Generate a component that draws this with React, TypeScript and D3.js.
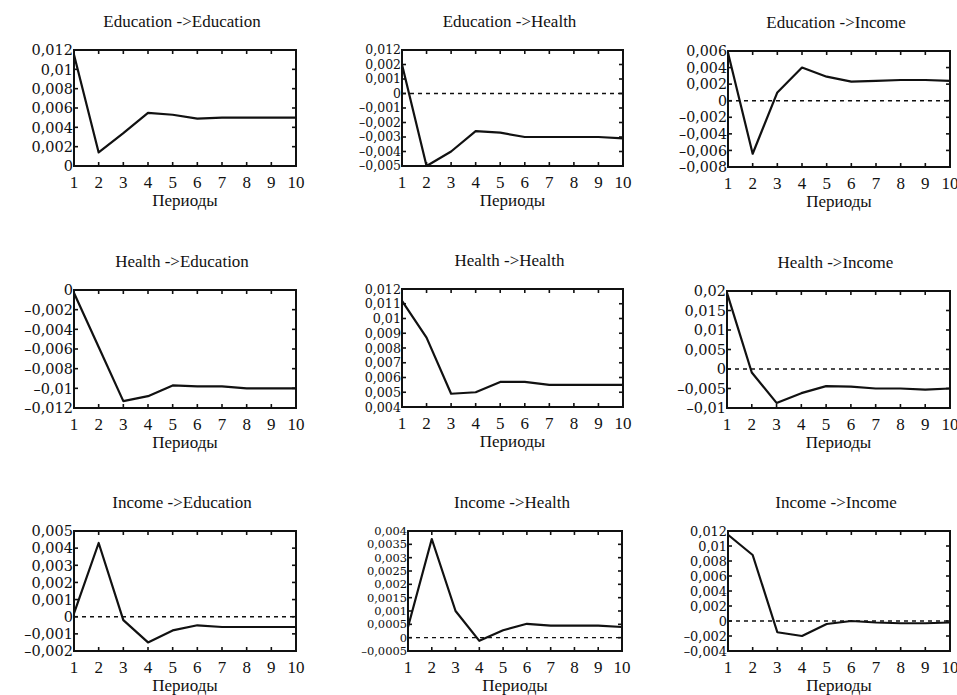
import React from "react";
import * as d3 from "d3";

const periods = [1, 2, 3, 4, 5, 6, 7, 8, 9, 10];
const xAxisLabel = "Периоды";

const titles = [
  "Education ->Education",
  "Education ->Health",
  "Education ->Income",
  "Health ->Education",
  "Health ->Health",
  "Health ->Income",
  "Income ->Education",
  "Income ->Health",
  "Income ->Income",
];

const eduToEdu = [0.0115, 0.0014, 0.0034, 0.0055, 0.0053, 0.0049, 0.005, 0.005, 0.005, 0.005];
const eduToHealth = [0.002, -0.005, -0.004, -0.0026, -0.0027, -0.003, -0.003, -0.003, -0.003, -0.0031];
const eduToIncome = [0.0058, -0.0064, 0.001, 0.004, 0.0029, 0.0023, 0.0024, 0.0025, 0.0025, 0.0024];
const healthToEdu = [-0.0003, -0.0058, -0.0113, -0.0108, -0.0097, -0.0098, -0.0098, -0.01, -0.01, -0.01];
const healthToHealth = [0.0112, 0.0087, 0.0049, 0.005, 0.0057, 0.0057, 0.0055, 0.0055, 0.0055, 0.0055];
const healthToIncome = [0.0195, -0.0009, -0.0087, -0.0062, -0.0044, -0.0045, -0.005, -0.005, -0.0053, -0.005];
const incomeToEdu = [0.0002, 0.0043, -0.0002, -0.0015, -0.0008, -0.0005, -0.0006, -0.0006, -0.0006, -0.0006];
const incomeToHealth = [0.0004, 0.0037, 0.001, -0.00012, 0.00028, 0.00052, 0.00045, 0.00045, 0.00045, 0.0004];
const incomeToIncome = [0.0115, 0.0088, -0.0015, -0.002, -0.0004, 0, -0.0002, -0.0003, -0.0003, -0.0002];

const ticks1 = [0, 0.002, 0.004, 0.006, 0.008, 0.01, 0.012];
const labels1 = ["0", "0,002", "0,004", "0,006", "0,008", "0,01", "0,012"];
const ticks2 = [-0.005, -0.004, -0.003, -0.002, -0.001, 0, 0.001, 0.002, 0.003];
const labels2 = ["–0,005", "–0,004", "–0,003", "–0,002", "–0,001", "0", "0,001", "0,002", "0,012"];
const ticks3 = [-0.008, -0.006, -0.004, -0.002, 0, 0.002, 0.004, 0.006];
const labels3 = ["–0,008", "–0,006", "–0,004", "–0,002", "0", "0,002", "0,004", "0,006"];
const ticks4 = [-0.012, -0.01, -0.008, -0.006, -0.004, -0.002, 0];
const labels4 = ["–0,012", "–0,01", "–0,008", "–0,006", "–0,004", "–0,002", "0"];
const ticks5 = [0.004, 0.005, 0.006, 0.007, 0.008, 0.009, 0.01, 0.011, 0.012];
const labels5 = ["0,004", "0,005", "0,006", "0,007", "0,008", "0,009", "0,01", "0,011", "0,012"];
const ticks6 = [-0.01, -0.005, 0, 0.005, 0.01, 0.015, 0.02];
const labels6 = ["–0,01", "–0,005", "0", "0,005", "0,01", "0,015", "0,02"];
const ticks7 = [-0.002, -0.001, 0, 0.001, 0.002, 0.003, 0.004, 0.005];
const labels7 = ["–0,002", "–0,001", "0", "0,001", "0,002", "0,003", "0,004", "0,005"];
const ticks8 = [-0.0005, 0, 0.0005, 0.001, 0.0015, 0.002, 0.0025, 0.003, 0.0035, 0.004];
const labels8 = ["–0,0005", "0", "0,0005", "0,001", "0,0015", "0,002", "0,0025", "0,003", "0,0035", "0,004"];
const ticks9 = [-0.004, -0.002, 0, 0.002, 0.004, 0.006, 0.008, 0.01, 0.012];
const labels9 = ["–0,004", "–0,002", "0", "0,002", "0,004", "0,006", "0,008", "0,01", "0,012"];

const seriesList = [eduToEdu, eduToHealth, eduToIncome, healthToEdu, healthToHealth, healthToIncome, incomeToEdu, incomeToHealth, incomeToIncome];
const tickList = [ticks1, ticks2, ticks3, ticks4, ticks5, ticks6, ticks7, ticks8, ticks9];
const labelList = [labels1, labels2, labels3, labels4, labels5, labels6, labels7, labels8, labels9];

// layout (pixel boxes of each plot frame)
const boxes = [
  { l: 74, t: 50, r: 296, b: 166 },
  { l: 402, t: 50, r: 623, b: 166 },
  { l: 728, t: 51, r: 950, b: 167 },
  { l: 74, t: 290, r: 296, b: 408 },
  { l: 402, t: 289, r: 623, b: 407 },
  { l: 727, t: 291, r: 950, b: 408 },
  { l: 74, t: 531, r: 296, b: 651 },
  { l: 408, t: 531, r: 622, b: 651 },
  { l: 728, t: 531, r: 950, b: 651 },
];

const ink = "#111";
const serif = "'Liberation Serif', 'Times New Roman', serif";
const yFont = "'DejaVu Serif', serif";

function Panel({ idx }: { idx: number }) {
  const box = boxes[idx];
  const data = seriesList[idx];
  const ticks = tickList[idx];
  const labels = labelList[idx];
  const x = d3.scaleLinear().domain([periods[0], periods[periods.length - 1]]).range([box.l, box.r]);
  const y = d3.scaleLinear().domain([ticks[0], ticks[ticks.length - 1]]).range([box.b, box.t]);
  const line = d3
    .line<number>()
    .x((_, i) => x(periods[i]))
    .y((d) => y(d));
  const [y0, y1] = y.domain();
  const showZero = y0 < 0 && y1 > 0;
  const tl = 4;
  const cx = (box.l + box.r) / 2;
  const spacing = (box.b - box.t) / (ticks.length - 1);
  const yfs = Math.min(14.5, spacing * 0.86);
  return (
    <g>
      <text x={cx - 3} y={box.t - 23} textAnchor="middle" fontFamily={serif} fontSize={17} fill={ink}>
        {titles[idx]}
      </text>
      {showZero && (
        <line x1={box.l} x2={box.r} y1={y(0)} y2={y(0)} stroke={ink} strokeWidth={1.4} strokeDasharray="4,4" />
      )}
      <path d={line(data) || ""} fill="none" stroke={ink} strokeWidth={2.2} strokeLinejoin="round" />
      {periods.slice(1, -1).map((p) => (
        <g key={"xt" + p}>
          <line x1={x(p)} x2={x(p)} y1={box.b} y2={box.b - tl} stroke={ink} strokeWidth={1.6} />
          <line x1={x(p)} x2={x(p)} y1={box.t} y2={box.t + tl} stroke={ink} strokeWidth={1.6} />
        </g>
      ))}
      {ticks.slice(1, -1).map((t) => (
        <g key={"yt" + t}>
          <line x1={box.l} x2={box.l + tl} y1={y(t)} y2={y(t)} stroke={ink} strokeWidth={1.6} />
          <line x1={box.r} x2={box.r - tl} y1={y(t)} y2={y(t)} stroke={ink} strokeWidth={1.6} />
        </g>
      ))}
      <rect x={box.l} y={box.t} width={box.r - box.l} height={box.b - box.t} fill="none" stroke={ink} strokeWidth={2} />
      {periods.map((p) => (
        <text key={"xl" + p} x={x(p)} y={box.b + 22} textAnchor="middle" fontFamily={serif} fontSize={17} fill={ink}>
          {p}
        </text>
      ))}
      {ticks.map((t, i) => (
        <text
          key={"yl" + t}
          x={box.l - 1}
          y={y(t) + yfs * 0.36}
          textAnchor="end"
          fontFamily={yFont}
          fontSize={yfs}
          fill={ink}
        >
          {labels[i]}
        </text>
      ))}
      <text x={cx} y={box.b + 40} textAnchor="middle" fontFamily={serif} fontSize={17} fill={ink}>
        {xAxisLabel}
      </text>
    </g>
  );
}

export default function App() {
  return (
    <svg
      width={957}
      height={695}
      viewBox="0 0 957 695"
      style={{ position: "absolute", left: 0, top: 0, background: "#fff" }}
    >
      <rect x={0} y={0} width={957} height={695} fill="#fff" />
      {titles.map((_, i) => (
        <Panel key={i} idx={i} />
      ))}
    </svg>
  );
}
